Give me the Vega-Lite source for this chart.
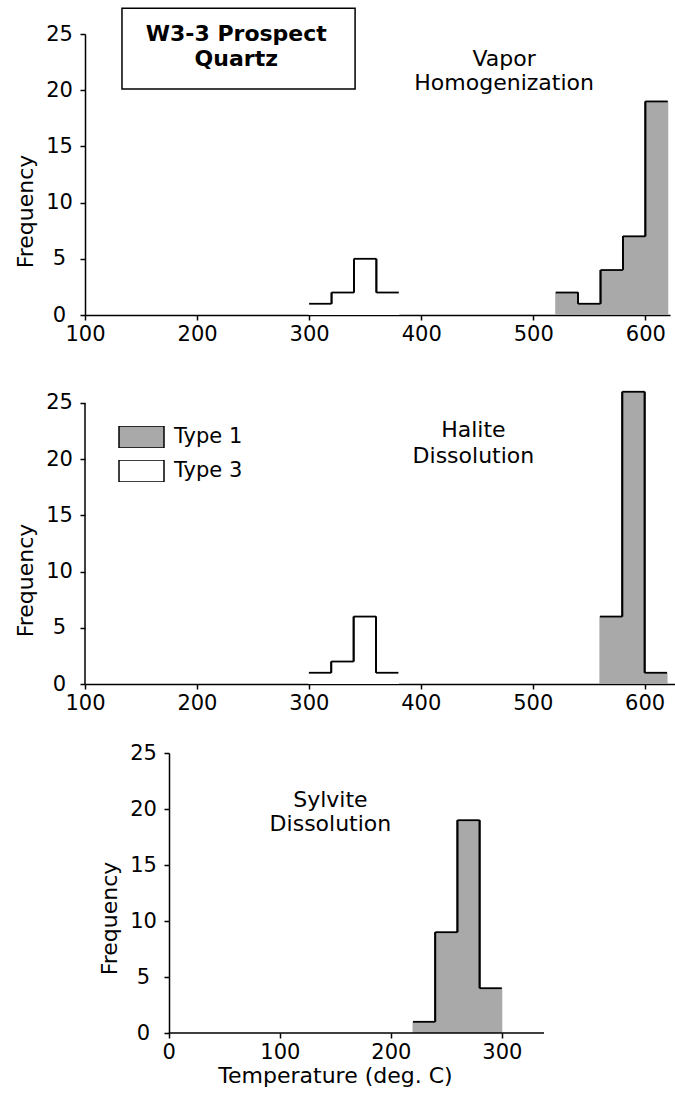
{
  "$schema": "https://vega.github.io/schema/vega-lite/v6.json",
  "background": "white",
  "padding": {"left": 14, "top": 7, "right": 0, "bottom": 5},
  "bounds": "flush",
  "spacing": 69,
  "config": {
    "font": "DejaVu Sans",
    "view": {"stroke": null},
    "axis": {
      "grid": false,
      "domainColor": "black",
      "domainWidth": 1.5,
      "tickColor": "black",
      "tickWidth": 1.5,
      "tickSize": 5,
      "labelColor": "black",
      "labelFontSize": 21,
      "labelFont": "DejaVu Sans",
      "titleColor": "black",
      "titleFontSize": 22,
      "titleFont": "DejaVu Sans",
      "titleFontWeight": "normal"
    },
    "axisY": {"labelAlign": "center", "labelBaseline": "middle", "labelPadding": 21, "titlePadding": 8},
    "axisX": {"labelPadding": 3, "labelFlush": false},
    "text": {"font": "DejaVu Sans", "color": "black"}
  },
  "datasets": {
    "vapor": [
      {"lo": 300, "hi": 320, "count": 1, "type": "Type 3"},
      {"lo": 320, "hi": 340, "count": 2, "type": "Type 3"},
      {"lo": 340, "hi": 360, "count": 5, "type": "Type 3"},
      {"lo": 360, "hi": 380, "count": 2, "type": "Type 3"},
      {"lo": 520, "hi": 540, "count": 2, "type": "Type 1"},
      {"lo": 540, "hi": 560, "count": 1, "type": "Type 1"},
      {"lo": 560, "hi": 580, "count": 4, "type": "Type 1"},
      {"lo": 580, "hi": 600, "count": 7, "type": "Type 1"},
      {"lo": 600, "hi": 620, "count": 19, "type": "Type 1"}
    ],
    "halite": [
      {"lo": 300, "hi": 320, "count": 1, "type": "Type 3"},
      {"lo": 320, "hi": 340, "count": 2, "type": "Type 3"},
      {"lo": 340, "hi": 360, "count": 6, "type": "Type 3"},
      {"lo": 360, "hi": 380, "count": 1, "type": "Type 3"},
      {"lo": 560, "hi": 580, "count": 6, "type": "Type 1"},
      {"lo": 580, "hi": 600, "count": 26, "type": "Type 1"},
      {"lo": 600, "hi": 620, "count": 1, "type": "Type 1"}
    ],
    "sylvite": [
      {"lo": 220, "hi": 240, "count": 1, "type": "Type 1"},
      {"lo": 240, "hi": 260, "count": 9, "type": "Type 1"},
      {"lo": 260, "hi": 280, "count": 19, "type": "Type 1"},
      {"lo": 280, "hi": 300, "count": 4, "type": "Type 1"}
    ]
  },
  "vconcat": [
    {
      "width": 585,
      "height": 281,
      "data": {"name": "vapor"},
      "layer": [
        {
          "mark": {"type": "rect", "strokeWidth": 0, "xOffset": -0.5, "x2Offset": 0.5},
          "encoding": {
            "x": {"field": "lo", "type": "quantitative", "scale": {"domain": [100, 622], "nice": false, "zero": false}, "axis": {"values": [100, 200, 300, 400, 500, 600], "title": null}},
            "x2": {"field": "hi"},
            "y": {"field": "count", "type": "quantitative", "scale": {"domain": [0, 25], "nice": false}, "axis": {"values": [0, 5, 10, 15, 20, 25], "title": "Frequency", "titleY": 177}},
            "y2": {"datum": 0},
            "fill": {
              "field": "type", "type": "nominal",
              "scale": {"domain": ["Type 1", "Type 3"], "range": ["#a9a9a9", "#ffffff"]},
              "legend": {"orient": "none", "legendX": 33, "legendY": 392, "title": null, "direction": "vertical", "symbolType": "M-1,-0.49H1V0.49H-1Z", "symbolSize": 2025, "clipHeight": 22, "symbolStrokeColor": "black", "symbolStrokeWidth": 1.5, "labelFontSize": 21, "labelFont": "DejaVu Sans", "labelColor": "black", "labelOffset": 9, "rowPadding": 12, "symbolOffset": 0, "encode": {"symbols": {"update": {"stroke": {"value": "black"}, "strokeWidth": {"value": 1.5}}}}}
            }
          }
        },
        {
          "mark": {"type": "rule", "stroke": "black", "strokeWidth": 1.8},
          "encoding": {"x": {"field": "lo", "type": "quantitative"}, "x2": {"field": "hi"}, "y": {"field": "count", "type": "quantitative"}}
        },
        {
          "transform": [{"window": [{"op": "lag", "field": "count", "as": "prev"}], "groupby": ["type"], "sort": [{"field": "lo"}]}],
          "mark": {"type": "rule", "stroke": "black", "strokeWidth": 1.8},
          "encoding": {"x": {"field": "lo", "type": "quantitative"}, "y": {"field": "count", "type": "quantitative"}, "y2": {"field": "prev"}}
        },
        {
          "transform": [{"window": [{"op": "lead", "field": "count", "as": "next"}], "groupby": ["type"], "sort": [{"field": "lo"}]}],
          "mark": {"type": "rule", "stroke": "black", "strokeWidth": 1.8},
          "encoding": {"x": {"field": "hi", "type": "quantitative"}, "y": {"field": "count", "type": "quantitative"}, "y2": {"field": "next"}}
        },
        {
          "data": {"values": [{}]},
          "mark": {"type": "rect", "fill": "white", "stroke": "black", "strokeWidth": 1.5},
          "encoding": {"x": {"datum": 133}, "x2": {"datum": 341}, "y": {"datum": 27.3}, "y2": {"datum": 20.1}}
        },
        {
          "data": {"values": [{}]},
          "mark": {"type": "text", "fontSize": 22, "fontWeight": "bold", "align": "center", "baseline": "middle", "lineHeight": 25.5},
          "encoding": {"x": {"datum": 235}, "y": {"datum": 25.04}, "text": {"value": ["W3-3 Prospect", "Quartz"]}}
        },
        {
          "data": {"values": [{}]},
          "mark": {"type": "text", "fontSize": 22, "align": "center", "baseline": "middle", "lineHeight": 24},
          "encoding": {"x": {"datum": 474}, "y": {"datum": 22.78}, "text": {"value": ["Vapor", "Homogenization"]}}
        }
      ]
    },
    {
      "width": 591,
      "height": 300,
      "data": {"name": "halite"},
      "layer": [
        {
          "mark": {"type": "rect", "strokeWidth": 0, "xOffset": -0.5, "x2Offset": 0.5},
          "encoding": {
            "x": {"field": "lo", "type": "quantitative", "scale": {"domain": [100, 628], "nice": false, "zero": false}, "axis": {"values": [100, 200, 300, 400, 500, 600], "title": null}},
            "x2": {"field": "hi"},
            "y": {"field": "count", "type": "quantitative", "scale": {"domain": [0, 26.69], "nice": false}, "axis": {"values": [0, 5, 10, 15, 20, 25], "domain": false, "title": "Frequency", "titleY": 196}},
            "y2": {"datum": 0},
            "fill": {
              "field": "type", "type": "nominal",
              "scale": {"domain": ["Type 1", "Type 3"], "range": ["#a9a9a9", "#ffffff"]},
              "legend": {"orient": "none", "legendX": 33, "legendY": 392, "title": null, "direction": "vertical", "symbolType": "M-1,-0.49H1V0.49H-1Z", "symbolSize": 2025, "clipHeight": 22, "symbolStrokeColor": "black", "symbolStrokeWidth": 1.5, "labelFontSize": 21, "labelFont": "DejaVu Sans", "labelColor": "black", "labelOffset": 9, "rowPadding": 12, "symbolOffset": 0, "encode": {"symbols": {"update": {"stroke": {"value": "black"}, "strokeWidth": {"value": 1.5}}}}}
            }
          }
        },
        {
          "data": {"values": [{}]},
          "mark": {"type": "rule", "stroke": "black", "strokeWidth": 1.5},
          "encoding": {"x": {"datum": 100}, "y": {"datum": 0}, "y2": {"datum": 25}}
        },
        {
          "mark": {"type": "rule", "stroke": "black", "strokeWidth": 1.8},
          "encoding": {"x": {"field": "lo", "type": "quantitative"}, "x2": {"field": "hi"}, "y": {"field": "count", "type": "quantitative"}}
        },
        {
          "transform": [{"window": [{"op": "lag", "field": "count", "as": "prev"}], "groupby": ["type"], "sort": [{"field": "lo"}]}],
          "mark": {"type": "rule", "stroke": "black", "strokeWidth": 1.8},
          "encoding": {"x": {"field": "lo", "type": "quantitative"}, "y": {"field": "count", "type": "quantitative"}, "y2": {"field": "prev"}}
        },
        {
          "transform": [{"window": [{"op": "lead", "field": "count", "as": "next"}], "groupby": ["type"], "sort": [{"field": "lo"}]}],
          "mark": {"type": "rule", "stroke": "black", "strokeWidth": 1.8},
          "encoding": {"x": {"field": "hi", "type": "quantitative"}, "y": {"field": "count", "type": "quantitative"}, "y2": {"field": "next"}}
        },
        {
          "data": {"values": [{}]},
          "mark": {"type": "text", "fontSize": 22, "align": "center", "baseline": "middle", "lineHeight": 26},
          "encoding": {"x": {"datum": 447}, "y": {"datum": 22.6}, "text": {"value": ["Halite", "Dissolution"]}}
        }
      ]
    },
    {
      "width": 459,
      "height": 280,
      "data": {"name": "sylvite"},
      "layer": [
        {
          "mark": {"type": "rect", "strokeWidth": 0, "xOffset": -0.5, "x2Offset": 0.5},
          "encoding": {
            "x": {"field": "lo", "type": "quantitative", "scale": {"domain": [-75.5, 338], "nice": false, "zero": false}, "axis": {"values": [0, 100, 200, 300], "domain": false, "title": "Temperature (deg. C)", "titleX": 250, "titlePadding": 3}},
            "x2": {"field": "hi"},
            "y": {"field": "count", "type": "quantitative", "scale": {"domain": [0, 25], "nice": false}, "axis": {"values": [0, 5, 10, 15, 20, 25], "offset": -84, "title": "Frequency", "titleY": 165}},
            "y2": {"datum": 0},
            "fill": {
              "field": "type", "type": "nominal",
              "scale": {"domain": ["Type 1", "Type 3"], "range": ["#a9a9a9", "#ffffff"]},
              "legend": {"orient": "none", "legendX": 33, "legendY": 392, "title": null, "direction": "vertical", "symbolType": "M-1,-0.49H1V0.49H-1Z", "symbolSize": 2025, "clipHeight": 22, "symbolStrokeColor": "black", "symbolStrokeWidth": 1.5, "labelFontSize": 21, "labelFont": "DejaVu Sans", "labelColor": "black", "labelOffset": 9, "rowPadding": 12, "symbolOffset": 0, "encode": {"symbols": {"update": {"stroke": {"value": "black"}, "strokeWidth": {"value": 1.5}}}}}
            }
          }
        },
        {
          "data": {"values": [{}]},
          "mark": {"type": "rule", "stroke": "black", "strokeWidth": 1.5},
          "encoding": {"x": {"datum": 0}, "x2": {"datum": 338}, "y": {"datum": 0}}
        },
        {
          "mark": {"type": "rule", "stroke": "black", "strokeWidth": 1.8},
          "encoding": {"x": {"field": "lo", "type": "quantitative"}, "x2": {"field": "hi"}, "y": {"field": "count", "type": "quantitative"}}
        },
        {
          "transform": [{"window": [{"op": "lag", "field": "count", "as": "prev"}], "groupby": ["type"], "sort": [{"field": "lo"}]}],
          "mark": {"type": "rule", "stroke": "black", "strokeWidth": 1.8},
          "encoding": {"x": {"field": "lo", "type": "quantitative"}, "y": {"field": "count", "type": "quantitative"}, "y2": {"field": "prev"}}
        },
        {
          "transform": [{"window": [{"op": "lead", "field": "count", "as": "next"}], "groupby": ["type"], "sort": [{"field": "lo"}]}],
          "mark": {"type": "rule", "stroke": "black", "strokeWidth": 1.8},
          "encoding": {"x": {"field": "hi", "type": "quantitative"}, "y": {"field": "count", "type": "quantitative"}, "y2": {"field": "next"}}
        },
        {
          "data": {"values": [{}]},
          "mark": {"type": "text", "fontSize": 22, "align": "center", "baseline": "middle", "lineHeight": 24},
          "encoding": {"x": {"datum": 145.6}, "y": {"datum": 20.8}, "text": {"value": ["Sylvite", "Dissolution"]}}
        }
      ]
    }
  ]
}
